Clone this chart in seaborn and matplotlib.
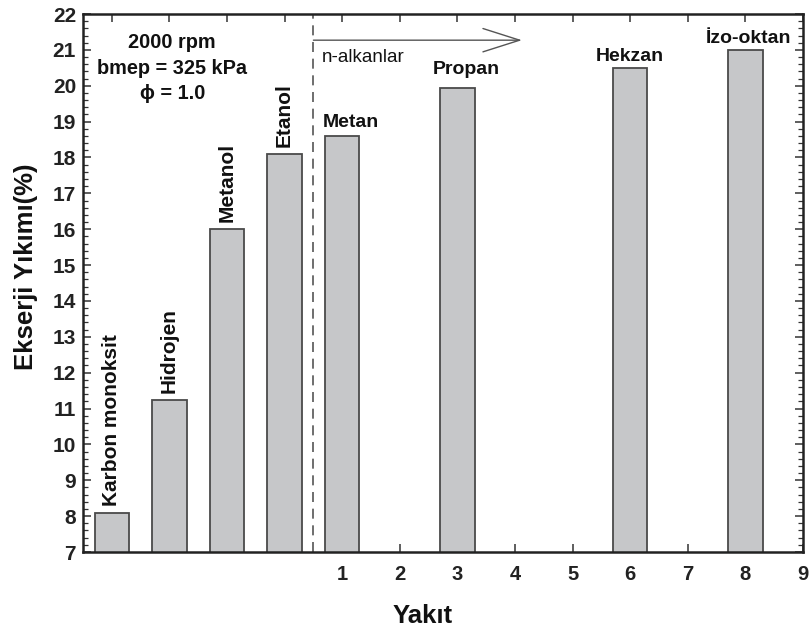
import numpy as np
import pandas as pd
import matplotlib
matplotlib.use("Agg")
import matplotlib.pyplot as plt
from matplotlib.ticker import MultipleLocator
import seaborn as sns

# Exergy destruction (%) at 2000 rpm, bmep = 325 kPa, phi = 1.0
oxy_fuels = ["Karbon monoksit", "Hidrojen", "Metanol", "Etanol"]
oxy_values = [8.1, 11.25, 16.0, 18.1]

alkane_fuels = ["Metan", "Propan", "Hekzan", "İzo-oktan"]
alkane_carbon = [1, 3, 6, 8]
alkane_values = [18.6, 19.95, 20.5, 21.0]

x_ticklabels = ["1", "2", "3", "4", "5", "6", "7", "8", "9"]

# non-alkane fuels sit left of the n-alkane section, one slot apart
oxy_pos = list(np.arange(-len(oxy_fuels) + 1, 1))

df = pd.DataFrame({
    "yakit": oxy_fuels + alkane_fuels,
    "x": oxy_pos + alkane_carbon,
    "y": oxy_values + alkane_values,
})

sns.set_theme(style="ticks")
plt.rcParams["font.family"] = ["Liberation Sans", "DejaVu Sans"]

fig = plt.figure(figsize=(8.11, 6.31), dpi=100)
ax = fig.add_axes([83 / 811, 79 / 631, 720 / 811, 538 / 631])

sns.barplot(data=df, x="x", y="y", native_scale=True, width=0.6,
            color="#c6c7c9", saturation=1, edgecolor="#4a4a4a",
            linewidth=1.3, ax=ax, errorbar=None)

ax.set_xlim(-3.5, 9)
ax.set_ylim(7, 22)

# ticks: inward on all four sides
ax.set_xticks(np.arange(-3, 10))
ax.set_xticklabels([""] * 4 + x_ticklabels)
ax.yaxis.set_major_locator(MultipleLocator(1))
ax.yaxis.set_minor_locator(MultipleLocator(0.2))
ax.tick_params(axis="both", which="both", direction="in",
               top=True, right=True, color="#333333")
ax.tick_params(axis="both", which="major", length=6, width=1.1)
ax.tick_params(axis="y", which="minor", length=3.5, width=0.9)
ax.tick_params(axis="x", which="major", pad=9)
ax.tick_params(axis="y", which="major", pad=5)
for lab in ax.get_xticklabels():
    lab.set_fontsize(14.5)
    lab.set_fontweight("bold")
    lab.set_color("#222222")
for lab in ax.get_yticklabels():
    lab.set_fontsize(15)
    lab.set_fontweight("bold")
    lab.set_color("#222222")
for sp in ax.spines.values():
    sp.set_linewidth(1.8)
    sp.set_color("#222222")

ax.set_xlabel("Yakıt", fontsize=18.5, fontweight="bold", color="#111111")
ax.set_ylabel("Ekserji Yıkımı(%)", fontsize=18.5, fontweight="bold", color="#111111")
ax.xaxis.set_label_coords(0.472, -0.097)
ax.yaxis.set_label_coords(-0.062, 0.53)

# separator between the two fuel groups and the n-alkane arrow
ax.axvline(0.5, color="#555555", lw=1.2, ls=(0, (6, 4)))
ax.annotate("", xy=(4.12, 21.27), xytext=(0.5, 21.27),
            arrowprops=dict(arrowstyle="->,head_length=2.2,head_width=0.7",
                            color="#555555", lw=1.0, shrinkA=0, shrinkB=0))
ax.text(0.65, 20.8, "n-alkanlar", fontsize=13.5, color="#111111",
        ha="left", va="center")

ax.text(-1.95, 20.49, "2000 rpm\nbmep = 325 kPa\nϕ = 1.0", fontsize=14.3,
        fontweight="bold", ha="center", va="center", linespacing=1.45,
        color="#111111")

# rotated fuel names over the non-alkane bars
for name, xp, yv in zip(oxy_fuels, oxy_pos, oxy_values):
    ax.annotate(name, xy=(xp, yv), xytext=(0, 5), textcoords="offset points",
                rotation=90, ha="center", va="bottom", fontsize=15,
                fontweight="bold", color="#111111")

# horizontal fuel names over the n-alkane bars
label_offsets = [(6.5, 6.5), (6.7, 10), (0, 4.8), (2, 5.3)]
for name, xp, yv, (dx, dy) in zip(alkane_fuels, alkane_carbon, alkane_values, label_offsets):
    ax.annotate(name, xy=(xp, yv), xytext=(dx, dy), textcoords="offset points",
                ha="center", va="baseline", fontsize=14,
                fontweight="bold", color="#111111")

fig.savefig("out.png", dpi=100)
